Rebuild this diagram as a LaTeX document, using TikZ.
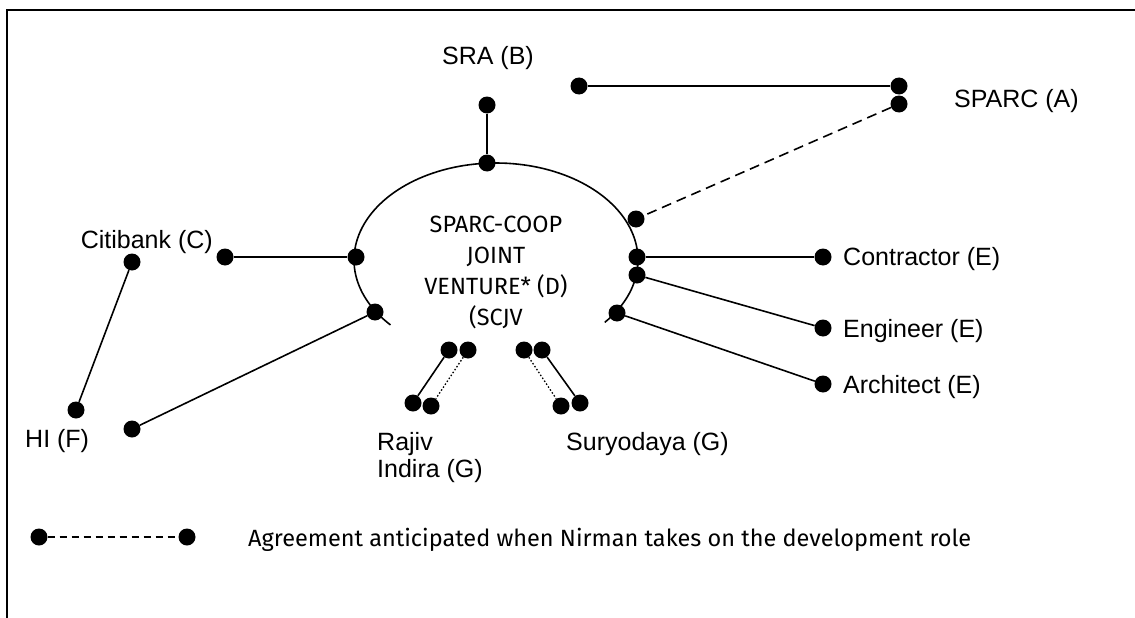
\documentclass[tikz,border=0pt]{standalone}
\usepackage{fontspec}
\setmainfont{Liberation Sans}
\newfontfamily\comicfont{Fira Sans}
\begin{document}
\begin{tikzpicture}[x=1pt,y=-1pt,
  dot/.style={circle,fill=black,inner sep=0pt,minimum size=17pt},
  link/.style={line width=1.6pt},
  dashlink/.style={line width=1.6pt,dash pattern=on 10pt off 6pt},
  dotlink/.style={line width=1.3pt,dash pattern=on 1.5pt off 2pt},
  lbl/.style={font=\fontsize{25}{27}\selectfont,inner sep=0pt},
  comic/.style={font=\comicfont\fontsize{23.5}{31}\selectfont,inner sep=0pt}]
\useasboundingbox (0,0) rectangle (1135,618);
% frame
\draw[line width=2pt] (7,618) -- (7,10) -- (1135,10);
% joint venture arc
\draw[line width=1.6pt] plot[domain=138:400,samples=120] ({496+142*cos(\x)},{260+97*sin(\x)});
\node[comic,align=center] (d) at (496,272) {SPARC-COOP\\JOINT\\VENTURE* (D)\\(SCJV};
% SRA
\node[dot] (b1) at (487,105) {};
\node[dot] (b2) at (487,163) {};
\draw[link] (b1) -- (b2);
\node[lbl] (bl) at (488,58) {SRA (B)};
% SPARC
\node[dot] (a0) at (579,86) {};
\node[dot] (a1) at (899,86) {};
\node[dot] (a2) at (899,104) {};
\node[dot] (a3) at (636,219) {};
\draw[link] (a0) -- (a1);
\draw[dashlink] (a2) -- (a3);
\node[lbl,anchor=west] (al) at (954,101) {SPARC (A)};
% Citibank
\node[dot] (c1) at (225,257) {};
\node[dot] (c2) at (356,257) {};
\draw[link] (c1) -- (c2);
\node[lbl,anchor=east] (cl) at (213,242) {Citibank (C)};
\node[dot] (c3) at (132,262) {};
\node[dot] (f1) at (76,410) {};
\draw[link] (c3) -- (f1);
% HI
\node[dot] (f2) at (132,429) {};
\node[dot] (f3) at (375,312) {};
\draw[link] (f2) -- (f3);
\node[lbl,anchor=west] (fl) at (25,441) {HI (F)};
% Contractor / Engineer / Architect
\node[dot] (e1) at (637,257) {};
\node[dot] (e2) at (823,257) {};
\draw[link] (e1) -- (e2);
\node[lbl,anchor=west] (el1) at (843,259) {Contractor (E)};
\node[dot] (e3) at (637,275) {};
\node[dot] (e4) at (823,328) {};
\draw[link] (e3) -- (e4);
\node[lbl,anchor=west] (el2) at (843,331) {Engineer (E)};
\node[dot] (e5) at (617,313) {};
\node[dot] (e6) at (823,384) {};
\draw[link] (e5) -- (e6);
\node[lbl,anchor=west] (el3) at (843,387) {Architect (E)};
% Rajiv Indira
\node[dot] (g1) at (449,350) {};
\node[dot] (g2) at (468,350) {};
\node[dot] (g3) at (413,403) {};
\node[dot] (g4) at (431,406) {};
\draw[link] (g1) -- (g3);
\draw[dotlink] (g2) -- (g4);
\node[lbl,anchor=west,align=left] (gl1) at (377,458) {Rajiv\\Indira (G)};
% Suryodaya
\node[dot] (h1) at (524,350) {};
\node[dot] (h2) at (542,350) {};
\node[dot] (h3) at (561,406) {};
\node[dot] (h4) at (580,403) {};
\draw[dotlink] (h1) -- (h3);
\draw[link] (h2) -- (h4);
\node[lbl,anchor=west] (hl) at (566,444) {Suryodaya (G)};
% legend
\node[dot] (l1) at (39,537) {};
\node[dot] (l2) at (187,537) {};
\draw[line width=1.4pt,dash pattern=on 7pt off 5pt] (l1) -- (l2);
\node[comic,anchor=west] (lt) at (248,540) {Agreement anticipated when Nirman takes on the development role};
\end{tikzpicture}
\end{document}
